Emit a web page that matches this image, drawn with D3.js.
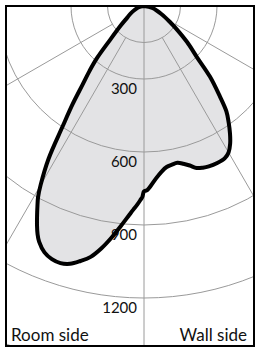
<!DOCTYPE html>
<html><head><meta charset="utf-8">
<script src="https://cdn.jsdelivr.net/npm/d3@7"></script>
<style>html,body{margin:0;padding:0;background:#fff;}svg{display:block;}</style>
</head><body>
<svg id="chart" width="259" height="352"></svg>
<script>
// Luminous intensity (cd) by angle (degrees from downward vertical; negative = room side, positive = wall side)
const angles = [-90,-75,-60,-55,-50,-45,-42,-40,-38,-36,-34,-32,-30,-29,-28,-27,-26,-25,-24,-22,-20,-18,-16,-14,-12,-10,-8,-6,-4,-3,-2,-1,-0.5,0,1,2,4,6,8,10,12,14,16,18,20,22,25,28,30,32,34,36,38,40,43,46,50,55,58,65,77,90];
const intensity = [0,25,65,85,125,198,290,348,410,500,600,740,850,898,933,968,1003,1035,1060,1092,1107,1111,1102,1080,1054,1012,962,909,860,838,818,796,785,762,757,742,710,685,668,662,659,668,682,700,707,711,712,708,695,668,632,592,550,485,398,302,232,160,128,80,35,0];
const ringValues = [150,300,600,900,1200,1500];
const ringLabels = ["300","600","900","1200"];
const spokeAngles = [-60,-30,30,60];
const sideLabels = ["Room side","Wall side"];

const svg = d3.select("#chart");
const frame = {x:6, y:6, w:248, h:340};
const cx = 144, cy = 6;
const r = d3.scaleLinear().domain([0,300]).range([0,73]);

svg.append("defs").append("clipPath").attr("id","clip")
  .append("rect").attr("x",frame.x).attr("y",frame.y).attr("width",frame.w).attr("height",frame.h);

const g = svg.append("g").attr("clip-path","url(#clip)");
const c = g.append("g").attr("transform",`translate(${cx},${cy})`);

const data = angles.map((a,i)=>({a, v:intensity[i]}));
const line = d3.lineRadial()
  .angle(d => Math.PI - d.a*Math.PI/180)
  .radius(d => r(d.v))
  .curve(d3.curveCatmullRom.alpha(0.5));

// fill
c.append("path").attr("d", line(data)).attr("fill","#e3e3e5").attr("stroke","none");

// grid circles
c.selectAll("circle.ring").data(ringValues).join("circle")
  .attr("class","ring").attr("r", d=>r(d))
  .attr("fill","none").attr("stroke","#9a9a9a").attr("stroke-width",1);

// spokes
c.selectAll("line.spoke").data(spokeAngles).join("line")
  .attr("class","spoke")
  .attr("x1", d=>r(150)*Math.sin(d*Math.PI/180))
  .attr("y1", d=>r(150)*Math.cos(d*Math.PI/180))
  .attr("x2", d=>r(2000)*Math.sin(d*Math.PI/180))
  .attr("y2", d=>r(2000)*Math.cos(d*Math.PI/180))
  .attr("stroke","#9a9a9a").attr("stroke-width",1);
c.append("line").attr("x1",0).attr("y1",0).attr("x2",0).attr("y2",r(2000))
  .attr("stroke","#9a9a9a").attr("stroke-width",1);

// ring labels
c.selectAll("text.rl").data(ringLabels).join("text")
  .attr("class","rl")
  .attr("x",-7).attr("y", d=>r(+d)+15)
  .attr("text-anchor","end")
  .attr("font-family","Lato, 'Open Sans', sans-serif").attr("font-size",15)
  .attr("fill","#111").text(d=>d);

// outline
c.append("path").attr("d", line(data)).attr("fill","none")
  .attr("stroke","#000").attr("stroke-width",4).attr("stroke-linejoin","round");

// side labels
svg.append("text").attr("x",11).attr("y",341)
  .attr("font-family","Lato, 'Open Sans', sans-serif").attr("font-size",17).attr("fill","#111")
  .text(sideLabels[0]);
svg.append("text").attr("x",247).attr("y",341).attr("text-anchor","end")
  .attr("font-family","Lato, 'Open Sans', sans-serif").attr("font-size",17).attr("fill","#111")
  .text(sideLabels[1]);

// frame
svg.append("rect").attr("x",frame.x).attr("y",frame.y).attr("width",frame.w).attr("height",frame.h)
  .attr("fill","none").attr("stroke","#000").attr("stroke-width",2);
</script>
</body></html>
